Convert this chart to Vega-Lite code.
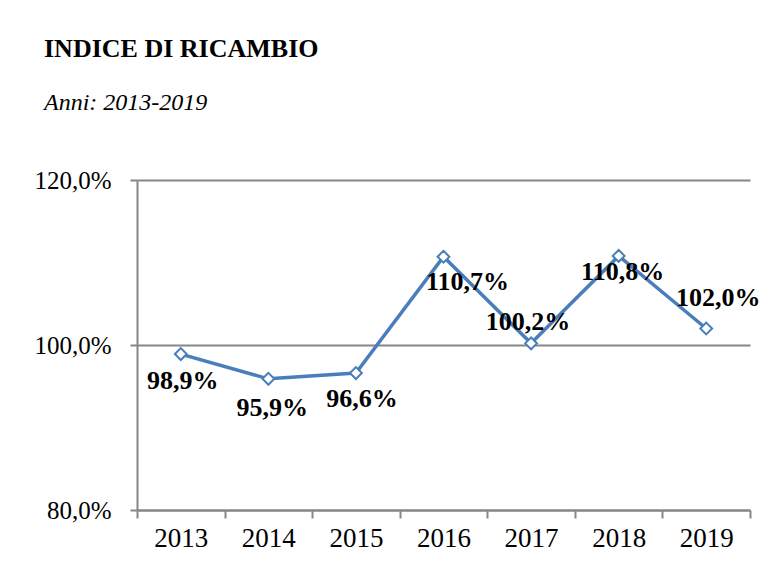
{
  "$schema": "https://vega.github.io/schema/vega-lite/v6.json",
  "autosize": "none",
  "width": 613,
  "height": 330,
  "padding": {"left": 137, "top": 180, "right": 25, "bottom": 59},
  "background": "white",
  "config": {
    "locale": {"number": {"decimal": ",", "thousands": ".", "grouping": [3], "currency": ["€", ""]}},
    "view": {"stroke": null},
    "font": "Liberation Serif"
  },
  "title": {
    "text": "INDICE DI RICAMBIO",
    "subtitle": "Anni: 2013-2019",
    "anchor": "start",
    "frame": "group",
    "dx": -93,
    "offset": 53,
    "font": "Liberation Serif",
    "fontSize": 26,
    "fontWeight": "bold",
    "color": "black",
    "subtitleFont": "Liberation Serif",
    "subtitleFontSize": 24,
    "subtitleFontStyle": "italic",
    "subtitleColor": "black",
    "subtitlePadding": 29
  },
  "data": {
    "values": [
      {"anno": "2013", "indice": 0.989},
      {"anno": "2014", "indice": 0.959},
      {"anno": "2015", "indice": 0.966},
      {"anno": "2016", "indice": 1.107},
      {"anno": "2017", "indice": 1.002},
      {"anno": "2018", "indice": 1.108},
      {"anno": "2019", "indice": 1.02}
    ]
  },
  "encoding": {
    "x": {
      "field": "anno",
      "type": "ordinal",
      "scale": {"type": "band", "paddingInner": 0, "paddingOuter": 0},
      "axis": {
        "title": null,
        "labelAngle": 0,
        "labelFont": "Liberation Serif",
        "labelFontSize": 27,
        "labelColor": "black",
        "labelPadding": 7,
        "tickBand": "extent",
        "tickSize": 8,
        "tickColor": "#868686",
        "tickWidth": 2,
        "domainColor": "#868686",
        "domainWidth": 2,
        "grid": false
      }
    },
    "y": {
      "field": "indice",
      "type": "quantitative",
      "scale": {"domain": [0.8, 1.2], "nice": false, "zero": false},
      "axis": {
        "title": null,
        "values": [0.8, 1.0, 1.2],
        "format": ".1%",
        "labelFont": "Liberation Serif",
        "labelFontSize": 25,
        "labelColor": "black",
        "labelPadding": 19,
        "tickSize": 7,
        "tickColor": "#868686",
        "tickWidth": 2,
        "domainColor": "#868686",
        "domainWidth": 2,
        "grid": true,
        "gridColor": "#868686",
        "gridWidth": 2
      }
    }
  },
  "layer": [
    {"mark": {"type": "line", "color": "#4A7EBB", "strokeWidth": 3.5}},
    {"mark": {"type": "point", "shape": "diamond", "filled": true, "fill": "white", "stroke": "#4A7EBB", "strokeWidth": 2, "size": 140, "opacity": 1}},
    {"transform": [{"filter": "datum.anno == '2013'"}], "mark": {"type": "text", "font": "Liberation Serif", "fontSize": 26, "fontWeight": "bold", "color": "black", "dx": 2, "dy": 27}, "encoding": {"text": {"field": "indice", "type": "quantitative", "format": ".1%"}}},
    {"transform": [{"filter": "datum.anno == '2014'"}], "mark": {"type": "text", "font": "Liberation Serif", "fontSize": 26, "fontWeight": "bold", "color": "black", "dx": 4, "dy": 29}, "encoding": {"text": {"field": "indice", "type": "quantitative", "format": ".1%"}}},
    {"transform": [{"filter": "datum.anno == '2015'"}], "mark": {"type": "text", "font": "Liberation Serif", "fontSize": 26, "fontWeight": "bold", "color": "black", "dx": 6, "dy": 26}, "encoding": {"text": {"field": "indice", "type": "quantitative", "format": ".1%"}}},
    {"transform": [{"filter": "datum.anno == '2016'"}], "mark": {"type": "text", "font": "Liberation Serif", "fontSize": 26, "fontWeight": "bold", "color": "black", "dx": 24, "dy": 25}, "encoding": {"text": {"field": "indice", "type": "quantitative", "format": ".1%"}}},
    {"transform": [{"filter": "datum.anno == '2017'"}], "mark": {"type": "text", "font": "Liberation Serif", "fontSize": 26, "fontWeight": "bold", "color": "black", "dx": -3, "dy": -21}, "encoding": {"text": {"field": "indice", "type": "quantitative", "format": ".1%"}}},
    {"transform": [{"filter": "datum.anno == '2018'"}], "mark": {"type": "text", "font": "Liberation Serif", "fontSize": 26, "fontWeight": "bold", "color": "black", "dx": 4, "dy": 16}, "encoding": {"text": {"field": "indice", "type": "quantitative", "format": ".1%"}}},
    {"transform": [{"filter": "datum.anno == '2019'"}], "mark": {"type": "text", "font": "Liberation Serif", "fontSize": 26, "fontWeight": "bold", "color": "black", "dx": 12, "dy": -31}, "encoding": {"text": {"field": "indice", "type": "quantitative", "format": ".1%"}}}
  ]
}
